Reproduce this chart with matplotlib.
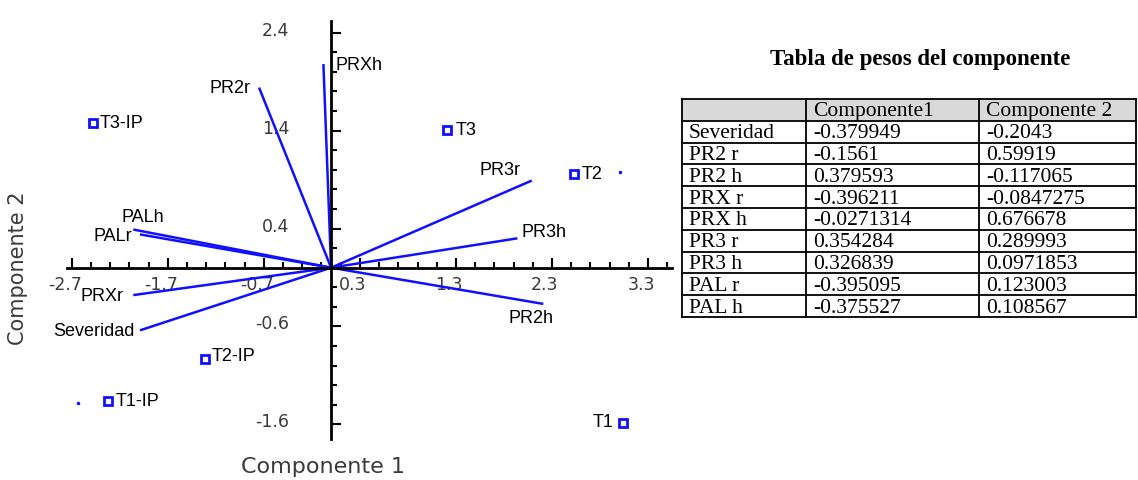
import matplotlib
matplotlib.use("Agg")
import numpy as np
import matplotlib.pyplot as plt
from matplotlib.ticker import FixedLocator
from matplotlib.transforms import ScaledTranslation

# observations (scores)
obs_names = ["T3-IP", "T3", "T2", "T2-IP", "T1-IP", "T1"]
obs_x = [-2.48, 1.21, 2.53, -1.31, -2.32, 3.04]
obs_y = [1.48, 1.41, 0.96, -0.93, -1.36, -1.59]
stray_x = [3.01, -2.64]
stray_y = [0.98, -1.38]

# variable vectors (biplot end points)
var_names = ["Severidad", "PR2r", "PR2h", "PRXr", "PRXh", "PR3r", "PR3h", "PALr", "PALh"]
var_x = [-1.99, -0.75, 2.21, -2.06, -0.08, 2.09, 1.94, -2.06, -1.99]
var_y = [-0.64, 1.84, -0.37, -0.28, 2.08, 0.89, 0.30, 0.39, 0.34]

x_ticks = [-2.7, -1.7, -0.7, 0.3, 1.3, 2.3, 3.3]
y_ticks = [-1.6, -0.6, 0.4, 1.4, 2.4]

# table of loadings
table_title = "Tabla de pesos del componente"
table_header = ["", "Componente1", "Componente 2"]
table_rows = ["Severidad", "PR2 r", "PR2 h", "PRX r", "PRX h", "PR3 r", "PR3 h", "PAL r", "PAL h"]
comp1 = ["-0.379949", "-0.1561", "0.379593", "-0.396211", "-0.0271314",
         "0.354284", "0.326839", "-0.395095", "-0.375527"]
comp2 = ["-0.2043", "0.59919", "-0.117065", "-0.0847275", "0.676678",
         "0.289993", "0.0971853", "0.123003", "0.108567"]

# label placement (pixel offsets, up is positive; alignment)
var_lab = {
    "Severidad": (-5, 0, "right"), "PR2r": (-9, 0, "right"), "PR2h": (-12, -14, "center"),
    "PRXr": (-10, 0, "right"), "PRXh": (12, 0, "left"), "PR3r": (-11, 11, "right"),
    "PR3h": (4, 7, "left"), "PALr": (-1, -6, "right"), "PALh": (3, 18, "center"),
}
obs_lab = {
    "T3-IP": (7, 0, "left"), "T3": (8, 0, "left"), "T2": (8, 0, "left"),
    "T2-IP": (6, 3, "left"), "T1-IP": (7, 0, "left"), "T1": (-10, 2, "right"),
}

W, H = 1138, 481
fig = plt.figure(figsize=(W / 100, H / 100), dpi=100)
fig.patch.set_facecolor("white")

blue = "#1010ff"
lab_font = "Liberation Sans"

# ---- biplot ----
ax = fig.add_axes([67 / W, 1 - 440 / H, 605 / W, 418 / H])
ax.set_xlim(-2.75, 3.55)
ax.set_ylim(-1.75, 2.52)
for s in ["top", "right"]:
    ax.spines[s].set_visible(False)
ax.spines["left"].set_position(("data", 0))
ax.spines["bottom"].set_position(("data", 0))
ax.spines["left"].set_linewidth(2)
ax.spines["bottom"].set_linewidth(2)

ax.xaxis.set_major_locator(FixedLocator(x_ticks))
ax.yaxis.set_major_locator(FixedLocator(y_ticks))
ax.xaxis.set_minor_locator(FixedLocator(np.arange(-2.7, 3.55, 0.2)))
ax.yaxis.set_minor_locator(FixedLocator(np.arange(-1.6, 2.5, 0.2)))
ax.set_xticklabels([f"{t:g}" for t in x_ticks])
ax.set_yticklabels([f"{t:g}" for t in y_ticks])
ax.tick_params(axis="x", which="major", direction="in", length=7, width=1.5, pad=5,
               labelsize=12.5, labelcolor="#3a3a3a")
ax.tick_params(axis="y", which="major", direction="in", length=7, width=1.5, pad=30,
               labelsize=12.5, labelcolor="#3a3a3a")
ax.tick_params(which="minor", direction="in", length=4, width=1.5)
# statgraphics-like label offset: x labels a bit left, y labels a bit up
for lab in ax.get_xticklabels():
    lab.set_transform(lab.get_transform() + ScaledTranslation(-0.07, 0, fig.dpi_scale_trans))
for lab in ax.get_yticklabels():
    lab.set_transform(lab.get_transform() + ScaledTranslation(0, 0.05, fig.dpi_scale_trans))

for name, x, y in zip(var_names, var_x, var_y):
    ax.plot([0, x], [0, y], color=blue, lw=1.8, solid_capstyle="butt")
    dx, dy, ha = var_lab[name]
    ax.annotate(name, (x, y), xytext=(dx, dy), textcoords="offset pixels",
                ha=ha, va="center", fontsize=13, family=lab_font, color="black")

ax.plot(obs_x, obs_y, ls="none", marker="s", ms=6, mew=2, mfc="white", mec=blue)
ax.plot(stray_x, stray_y, ls="none", marker="o", ms=1.5, color=blue)
for name, x, y in zip(obs_names, obs_x, obs_y):
    dx, dy, ha = obs_lab[name]
    ax.annotate(name, (x, y), xytext=(dx, dy), textcoords="offset pixels",
                ha=ha, va="center", fontsize=13, family=lab_font, color="black")

fig.text(323 / W, 1 - 467 / H, "Componente 1", ha="center", va="center",
         fontsize=16, color="#3a3a3a")
fig.text(18 / W, 1 - 268 / H, "Componente 2", ha="center", va="center",
         rotation=90, fontsize=15, color="#3a3a3a")

# ---- table ----
fig.text(920 / W, 1 - 60 / H, table_title, ha="center", va="center",
         fontsize=16.5, fontweight="bold", family="Liberation Serif")

tab = fig.add_axes([682 / W, 1 - 318 / H, 454 / W, 218 / H])
n = len(table_rows) + 1
tab.set_xlim(0, 454)
tab.set_ylim(n, 0)
tab.axis("off")
col_edges = [0, 124, 297, 454]
tab.axhspan(0, 1, xmin=0, xmax=1, color="#d9d9d9", lw=0)
for r in range(n + 1):
    tab.plot([0, 454], [r, r], color="black", lw=1.3, clip_on=False)
for c in col_edges:
    tab.plot([c, c], [0, n], color="black", lw=1.3, clip_on=False)
cells = [table_header] + [[a, b, c] for a, b, c in zip(table_rows, comp1, comp2)]
for r, row in enumerate(cells):
    for c, txt in enumerate(row):
        tab.text(col_edges[c] + 7, r + 0.55, txt, ha="left", va="center",
                 fontsize=15.5, family="Liberation Serif")

fig.savefig("out.png", dpi=100)
